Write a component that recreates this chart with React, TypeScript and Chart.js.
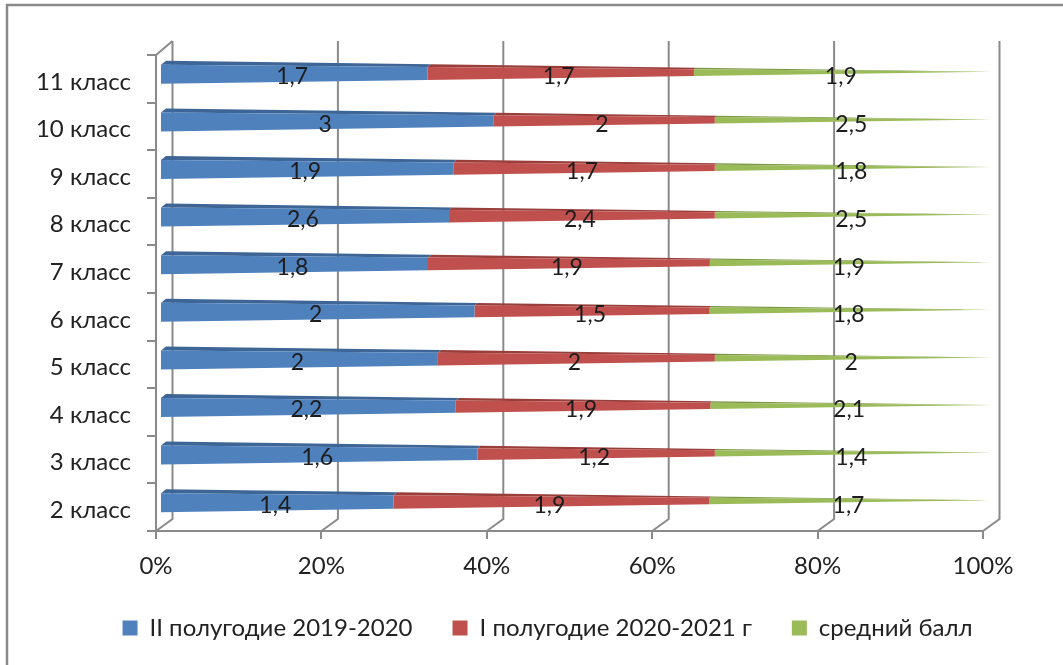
import React, { useEffect, useRef } from "react";
import { Chart, registerables } from "chart.js";

Chart.register(...registerables);

const categories = ["11 класс", "10 класс", "9 класс", "8 класс", "7 класс", "6 класс", "5 класс", "4 класс", "3 класс", "2 класс"];
const seriesNames = ["II полугодие 2019-2020", "I полугодие 2020-2021 г", "средний балл"];
const term2 = [1.7, 3, 1.9, 2.6, 1.8, 2, 2, 2.2, 1.6, 1.4];
const term1 = [1.7, 2, 1.7, 2.4, 1.9, 1.5, 2, 1.9, 1.2, 1.9];
const average = [1.9, 2.5, 1.8, 2.5, 1.9, 1.8, 2, 2.1, 1.4, 1.7];
const colors = ["#4f81bd", "#c0504d", "#9bbb59"];
const topColors = ["#3d6596", "#983e3b", "#7b9646"];

const FONT = "Lato";
const GRAY = "#8a8a8a";
const raws = [term2, term1, average];
const percent = (series: number[]) =>
  series.map((v, i) => (v / (term2[i] + term1[i] + average[i])) * 100);

const DEPTH_X = 16.5;
const DEPTH_Y = 12;

const conePlugin = {
  id: "cone3d",
  afterLayout(chart: any) {
    const lg = chart.legend;
    const dx = 46;
    lg.left += dx;
    lg.right += dx;
    const h = lg.height;
    lg.top = 576;
    lg.bottom = 576 + h;
  },
  beforeDraw(chart: any) {
    const { ctx, width, height } = chart;
    ctx.save();
    ctx.fillStyle = "#fff";
    ctx.fillRect(0, 0, width, height);
    // frame (top and left edges only)
    ctx.strokeStyle = GRAY;
    ctx.lineWidth = 2.5;
    ctx.beginPath();
    ctx.moveTo(7, height);
    ctx.lineTo(7, 5);
    ctx.lineTo(width, 5);
    ctx.stroke();
    ctx.restore();
  },
  beforeDatasetsDraw(chart: any) {
    const { ctx, scales, chartArea } = chart;
    const x = scales.x;
    ctx.save();
    ctx.strokeStyle = GRAY;
    ctx.lineWidth = 2;
    for (const t of x.ticks) {
      const px = x.getPixelForValue(t.value);
      ctx.beginPath();
      ctx.moveTo(px, chartArea.bottom);
      ctx.lineTo(px + DEPTH_X, chartArea.bottom - DEPTH_Y);
      ctx.lineTo(px + DEPTH_X, 41);
      ctx.stroke();
    }
    // top of left wall
    ctx.beginPath();
    ctx.moveTo(chartArea.left, chartArea.top);
    ctx.lineTo(chartArea.left + DEPTH_X, 41);
    ctx.stroke();
    ctx.restore();
  },
  beforeDatasetDraw(chart: any, args: any) {
    const { ctx, scales } = chart;
    const i = args.index;
    const startX = scales.xBars.getPixelForValue(0);
    const tipX = scales.xBars.getPixelForValue(100);
    ctx.save();
    for (const el of args.meta.data) {
      const { x, base, y, height } = el.getProps(["x", "base", "y", "height"], true);
      const H = height;
      const tipY = y - 7;
      const f = (p: number) => (tipX - p) / (tipX - startX);
      const fa = f(base);
      const fb = f(x);
      const ftop = (ff: number) => tipY - (7 / 19) * H * ff;
      const fbot = (ff: number) => tipY + (12 / 19) * H * ff;
      const bTop = (ff: number) => tipY - (11 / 19) * H * ff;
      // top face
      ctx.fillStyle = topColors[i];
      ctx.beginPath();
      ctx.moveTo(base, ftop(fa));
      ctx.lineTo(base + 5 * fa, bTop(fa));
      ctx.lineTo(x + 5 * fb, bTop(fb));
      ctx.lineTo(x, ftop(fb));
      ctx.closePath();
      ctx.fill();
      // front face
      ctx.fillStyle = colors[i];
      ctx.beginPath();
      ctx.moveTo(base, ftop(fa));
      ctx.lineTo(x, ftop(fb));
      ctx.lineTo(x, fbot(fb));
      ctx.lineTo(base, fbot(fa));
      ctx.closePath();
      ctx.fill();
    }
    ctx.restore();
    return false;
  },
  afterDatasetsDraw(chart: any) {
    const { ctx } = chart;
    ctx.save();
    ctx.font = `23px ${FONT}`;
    ctx.fillStyle = "#1c1c1c";
    ctx.textAlign = "center";
    ctx.textBaseline = "middle";
    chart.data.datasets.forEach((_: any, d: number) => {
      const meta = chart.getDatasetMeta(d);
      meta.data.forEach((el: any, k: number) => {
        const { x, base, y } = el.getProps(["x", "base", "y"], true);
        ctx.fillText(String(raws[d][k]).replace(".", ","), (x + base) / 2 - 2, y - 2);
      });
    });
    ctx.restore();
  },
};

export default function App() {
  const ref = useRef<HTMLCanvasElement>(null);
  useEffect(() => {
    const chart = new Chart(ref.current as HTMLCanvasElement, {
      type: "bar",
      plugins: [conePlugin],
      data: {
        labels: categories,
        datasets: raws.map((s, i) => ({
          label: seriesNames[i],
          data: percent(s),
          backgroundColor: colors[i],
          borderWidth: 0,
          barThickness: 19,
          xAxisID: "xBars",
          yAxisID: "y",
        })),
      },
      options: {
        indexAxis: "y",
        animation: false,
        responsive: false,
        devicePixelRatio: 1,
        layout: { padding: { left: 20, right: 80, top: 55, bottom: 0 } },
        scales: {
          xBars: { type: "linear", axis: "x", position: "bottom", stacked: true, display: false, min: -0.6, max: 98.95 },
          x: {
            type: "linear",
            position: "bottom",
            min: 0,
            max: 100,
            afterFit(s: any) { s.height = 60; },
            ticks: {
              stepSize: 20,
              maxRotation: 0,
              padding: 13,
              color: "#222",
              font: { family: FONT, size: 24 },
              callback: (v: any) => v + "%",
            },
            grid: { drawOnChartArea: false, color: GRAY, lineWidth: 2, tickLength: 8 },
            border: { color: GRAY, width: 2 },
          },
          y: {
            stacked: true,
            afterFit(s: any) { s.width = 136; },
            ticks: {
              padding: 16,
              labelOffset: 3,
              color: "#222",
              font: { family: FONT, size: 24 },
            },
            grid: { offset: true, drawOnChartArea: false, color: GRAY, lineWidth: 2, tickLength: 9 },
            border: { color: GRAY, width: 2 },
          },
        },
        plugins: {
          tooltip: { enabled: false },
          legend: {
            position: "bottom",
            labels: {
              boxWidth: 15,
              boxHeight: 15,
              padding: 40,
              color: "#222",
              font: { family: FONT, size: 24 },
            },
          },
        },
      } as any,
    });
    return () => chart.destroy();
  }, []);
  return (
    <div style={{ position: "fixed", left: 0, top: 0 }}>
      <canvas ref={ref} width={1063} height={665} style={{ display: "block" }} />
    </div>
  );
}
